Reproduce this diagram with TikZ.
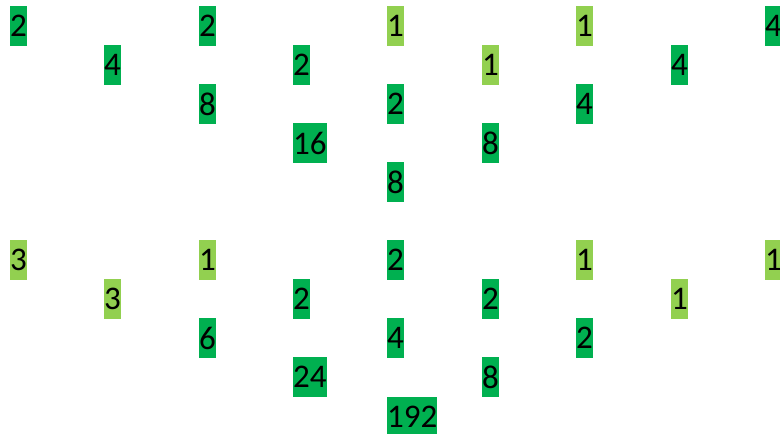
\documentclass[tikz,border=0pt]{standalone}
\usepackage{fontspec}
\setmainfont{Carlito}
\definecolor{dkg}{HTML}{00B050}
\definecolor{ltg}{HTML}{92D050}
\tikzset{
  cell/.style={anchor=north west, inner xsep=0pt, inner ysep=0pt, minimum height=40pt,
    font=\fontsize{33}{40}\selectfont, text=black},
  dk/.style={cell, fill=dkg},
  lt/.style={cell, fill=ltg}
}
\begin{document}
\begin{tikzpicture}[x=1pt,y=-1pt]
\useasboundingbox (0,0) rectangle (780,434);
\clip (0,0) rectangle (780,434);
% top block
\node[dk] (t11) at (10,6) {2};
\node[dk] (t12) at (199,6) {2};
\node[lt] (t13) at (387,6) {1};
\node[lt] (t14) at (576,6) {1};
\node[dk] (t15) at (765,6) {4};
\node[dk] (t21) at (104,45) {4};
\node[dk] (t22) at (293,45) {2};
\node[lt] (t23) at (482,45) {1};
\node[dk] (t24) at (671,45) {4};
\node[dk] (t31) at (199,84) {8};
\node[dk] (t32) at (387,84) {2};
\node[dk] (t33) at (576,84) {4};
\node[dk] (t41) at (293,123) {16};
\node[dk] (t42) at (482,123) {8};
\node[dk] (t51) at (387,162) {8};
% bottom block
\node[lt] (b11) at (10,240) {3};
\node[lt] (b12) at (199,240) {1};
\node[dk] (b13) at (387,240) {2};
\node[lt] (b14) at (576,240) {1};
\node[lt] (b15) at (765,240) {1};
\node[lt] (b21) at (104,279) {3};
\node[dk] (b22) at (293,279) {2};
\node[dk] (b23) at (482,279) {2};
\node[lt] (b24) at (671,279) {1};
\node[dk] (b31) at (199,318) {6};
\node[dk] (b32) at (387,318) {4};
\node[dk] (b33) at (576,318) {2};
\node[dk] (b41) at (293,357) {24};
\node[dk] (b42) at (482,357) {8};
\node[dk] (b51) at (387,397) {192};
\end{tikzpicture}
\end{document}
